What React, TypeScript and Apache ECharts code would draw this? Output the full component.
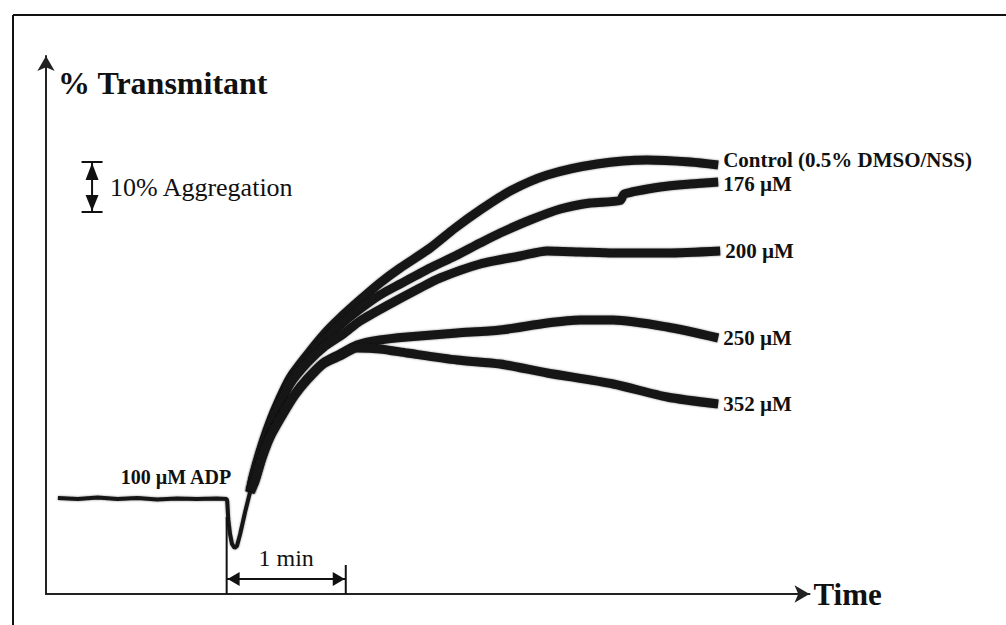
import React, { useEffect, useRef } from "react";
import * as echarts from "echarts";

// time in seconds (0 = ADP added), value in % transmittance (0 = baseline)
const baseTime = [-85, -75, -65, -55, -45, -35, -25, -15, -5, 0, 0.3, 0.8, 1.7, 2.7, 4.0, 5.2, 6.8, 9.3, 11.8];
const baseValue = [0.2, 0, 0.3, 0, 0.2, -0.1, 0.1, 0, 0.1, 0, -0.5, -4, -7, -9, -9.8, -9.4, -7.0, -2.6, 1.4];

const controlTime = [13.3, 16.8, 20.4, 24.9, 31.9, 40.5, 49.6, 57.1, 67.2, 77.2, 87.4, 102.5, 115.1, 127.7, 142.8, 161.5, 186.6, 211.9, 233.5, 247.6];
const controlValue = [4.4, 9.4, 13.8, 18.4, 24.2, 28.8, 33.2, 36.2, 39.8, 43.2, 46.2, 50.2, 54.2, 57.8, 61.6, 64.8, 67.0, 67.8, 67.4, 66.8];

const c176Time = [13.3, 16.8, 20.4, 24.9, 31.9, 40.5, 49.6, 57.1, 67.2, 77.2, 87.4, 102.5, 115.1, 127.7, 137.8, 152.9, 168.1, 183.1, 198.2, 200.3, 218.4, 233.5, 247.6];
const c176Value = [4.2, 9.2, 13.4, 17.8, 23.6, 27.8, 32.0, 34.8, 38.0, 40.8, 43.0, 46.2, 48.6, 51.2, 53.2, 55.8, 58.0, 59.2, 59.7, 61.0, 62.4, 63.0, 63.4];

const c200Time = [13.3, 16.8, 20.4, 24.9, 31.9, 40.5, 49.6, 58.7, 67.2, 82.3, 97.4, 107.5, 127.7, 147.9, 161.5, 178.1, 194.7, 221.9, 248.6];
const c200Value = [4.0, 8.8, 13.0, 17.4, 23.0, 27.2, 30.6, 33.0, 35.6, 39.0, 42.2, 44.2, 47.0, 48.6, 49.6, 49.4, 49.2, 49.2, 49.6];

const c250Time = [14.3, 17.8, 21.9, 28.4, 34.4, 40.5, 48.6, 57.1, 65.7, 77.2, 90.9, 116.1, 137.8, 161.5, 178.1, 194.7, 221.9, 247.6];
const c250Value = [3.8, 8.4, 12.6, 17.2, 21.0, 24.0, 27.2, 29.0, 30.8, 31.8, 32.4, 33.2, 33.8, 35.2, 35.8, 35.8, 34.4, 32.2];

const c352Time = [14.3, 17.8, 21.9, 28.4, 34.4, 40.5, 48.6, 57.1, 65.7, 77.2, 90.9, 116.1, 137.8, 161.5, 194.7, 221.9, 247.6];
const c352Value = [3.6, 8.2, 12.4, 17.0, 20.8, 23.8, 27.0, 28.6, 30.2, 30.0, 29.2, 27.8, 27.0, 25.2, 23.0, 20.4, 19.0];

const curveNames = ["Control (0.5% DMSO/NSS)", "176 \u00b5M", "200 \u00b5M", "250 \u00b5M", "352 \u00b5M"];
const curveTimes = [controlTime, c176Time, c200Time, c250Time, c352Time];
const curveValues = [controlValue, c176Value, c200Value, c250Value, c352Value];
const labelShift = [-5, 2, 0, 0, 0];

const X_MIN = -91;
const X_MAX = 293.6;
const Y_MIN = -19;
const Y_MAX = 88.6;

const INK = "#161616";
const SERIF = '"Liberation Serif", "Times New Roman", serif';

const zip = (t: number[], v: number[]) => t.map((x, i) => [x, v[i]]);

export default function App() {
  const ref = useRef<HTMLDivElement>(null);

  useEffect(() => {
    if (!ref.current) return;
    const chart = echarts.init(ref.current, undefined, { renderer: "svg" });
    const lastBase = [baseTime[baseTime.length - 1], baseValue[baseValue.length - 1]];

    const curveSeries = curveNames.map((name, i) => ({
      name,
      type: "line",
      data: [lastBase, ...zip(curveTimes[i], curveValues[i])],
      showSymbol: false,
      symbol: "none",
      smooth: 0.25,
      lineStyle: { color: INK, width: 9, shadowBlur: 2, shadowColor: "rgba(0,0,0,0.45)" },
      endLabel: {
        show: true,
        formatter: "{a}",
        distance: 5,
        offset: [0, labelShift[i]],
        color: "#111",
        fontFamily: SERIF,
        fontWeight: "bold",
        fontSize: 21,
        lineHeight: 19,
      },
      z: 3,
    }));

    chart.setOption({
      animation: false,
      backgroundColor: "#ffffff",
      grid: { left: 46, right: 196.5, top: 56, bottom: 31, containLabel: false },
      xAxis: {
        type: "value",
        min: X_MIN,
        max: X_MAX,
        name: "Time",
        nameLocation: "end",
        nameGap: 4,
        nameTextStyle: { fontFamily: SERIF, fontWeight: "bold", fontSize: 31, color: "#111", verticalAlign: "middle" },
        axisLine: { show: true, onZero: false, lineStyle: { color: "#222", width: 2 }, symbol: ["none", "arrow"], symbolSize: [13, 15] },
        axisTick: { show: false },
        axisLabel: { show: false },
        splitLine: { show: false },
      },
      yAxis: {
        type: "value",
        min: Y_MIN,
        max: Y_MAX,
        axisLine: { show: true, onZero: false, lineStyle: { color: "#222", width: 2 }, symbol: ["none", "arrow"], symbolSize: [13, 15] },
        axisTick: { show: false },
        axisLabel: { show: false },
        splitLine: { show: false },
      },
      series: [
        {
          name: "ADP",
          type: "line",
          data: zip(baseTime, baseValue),
          showSymbol: false,
          symbol: "none",
          lineStyle: { color: INK, width: 4, shadowBlur: 2, shadowColor: "rgba(0,0,0,0.45)" },
          z: 4,
        },
        ...curveSeries,
      ],
    });

    const p = (t: number, v: number) => chart.convertToPixel({ gridIndex: 0 }, [t, v]) as number[];
    const txt = (text: string, x: number, y: number, font: string, align = "left") => ({
      type: "text",
      style: {
        text, x, y, font, fill: "#111",
        textAlign: align, textVerticalAlign: "middle", align, verticalAlign: "middle",
      },
      z: 10,
    });
    const line = (x1: number, y1: number, x2: number, y2: number, w = 2) => ({
      type: "line",
      shape: { x1, y1, x2, y2 },
      style: { stroke: "#111", lineWidth: w },
      z: 10,
    });
    const tri = (pts: number[][]) => ({ type: "polygon", shape: { points: pts }, style: { fill: "#111" }, z: 10 });

    // 10% aggregation bracket
    const aggT = -67.8, aggTop = 67.4;
    const a1 = p(aggT, aggTop), a2 = p(aggT, aggTop - 10);
    // 1 min bracket
    const m0 = p(0, -16), m1 = p(60, -16);
    const axisBottom = p(0, Y_MIN)[1];
    const leftTickTop = p(0, -3.6)[1];
    const rightTickTop = p(60, -13.2)[1];
    const minLabel = p(30, -11.8);
    const adpLabel = p(-25.5, 4.4);
    const aggLabel = p(-58.8, 62.4);

    chart.setOption({
      graphic: [
        line(13, 15, 1006, 15, 2),
        line(13, 15, 13, 625, 2),
        txt("% Transmitant", 58, 83, `bold 32px ${SERIF}`),
        // aggregation bracket
        line(a1[0] - 10.5, a1[1], a1[0] + 10.5, a1[1], 2),
        line(a2[0] - 10.5, a2[1], a2[0] + 10.5, a2[1], 2),
        line(a1[0], a1[1], a2[0], a2[1], 2),
        tri([[a1[0], a1[1] + 1], [a1[0] - 6.5, a1[1] + 18], [a1[0] + 6.5, a1[1] + 18]]),
        tri([[a2[0], a2[1] - 1], [a2[0] - 6.5, a2[1] - 17], [a2[0] + 6.5, a2[1] - 17]]),
        txt("10% Aggregation", aggLabel[0], aggLabel[1], `26px ${SERIF}`),
        // ADP label
        txt("100 \u00b5M ADP", adpLabel[0], adpLabel[1], `bold 20px ${SERIF}`, "center"),
        // 1 min bracket
        line(m0[0], leftTickTop, m0[0], axisBottom, 2),
        line(m1[0], rightTickTop, m1[0], axisBottom, 2),
        line(m0[0], m0[1], m1[0], m1[1], 2),
        tri([[m0[0] + 1, m0[1]], [m0[0] + 13, m0[1] - 7], [m0[0] + 13, m0[1] + 7]]),
        tri([[m1[0] - 1, m1[1]], [m1[0] - 13, m1[1] - 7], [m1[0] - 13, m1[1] + 7]]),
        txt("1 min", minLabel[0], minLabel[1], `24px ${SERIF}`, "center"),
      ],
    });

    return () => chart.dispose();
  }, []);

  return (
    <div
      ref={ref}
      style={{ position: "absolute", left: 0, top: 0, width: 1006, height: 625, background: "#fff" }}
    />
  );
}
